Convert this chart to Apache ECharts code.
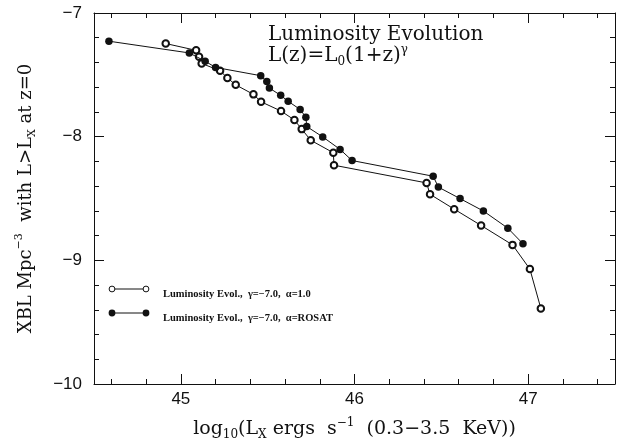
<!DOCTYPE html>
<html><head><meta charset="utf-8">
<script src="https://cdn.jsdelivr.net/npm/echarts@6/dist/echarts.min.js"></script>
<style>html,body{margin:0;padding:0;background:#fff}#c{width:618px;height:446px}</style>
</head><body><div id="c"></div>
<script>
// open circles: alpha = 1.0
const openX = [44.913, 45.088, 45.105, 45.120, 45.226, 45.268, 45.316, 45.418, 45.462, 45.577, 45.654, 45.696, 45.748, 45.878, 45.882, 46.415, 46.435, 46.574, 46.729, 46.910, 47.010, 47.073];
const openY = [-7.247, -7.302, -7.353, -7.408, -7.467, -7.525, -7.581, -7.658, -7.718, -7.793, -7.865, -7.939, -8.029, -8.130, -8.231, -8.374, -8.466, -8.586, -8.718, -8.875, -9.071, -9.389];
// filled circles: alpha = ROSAT
const filledX = [44.586, 45.049, 45.140, 45.200, 45.460, 45.495, 45.510, 45.575, 45.618, 45.687, 45.720, 45.725, 45.817, 45.917, 45.986, 46.453, 46.483, 46.608, 46.742, 46.883, 46.970];
const filledY = [-7.228, -7.323, -7.390, -7.440, -7.507, -7.554, -7.607, -7.666, -7.714, -7.780, -7.843, -7.918, -8.002, -8.103, -8.193, -8.320, -8.408, -8.501, -8.601, -8.740, -8.866];

const xMajorTicks = [45, 46, 47];
const xMinorTicks = [44.6, 44.8, 45.2, 45.4, 45.6, 45.8, 46.2, 46.4, 46.6, 46.8, 47.2, 47.4];
const yTicks = [-10, -9, -8, -7];
const seriesNames = ['Luminosity Evol.,  \u03b3=\u22127.0,  \u03b1=1.0', 'Luminosity Evol.,  \u03b3=\u22127.0,  \u03b1=ROSAT'];

const INK = '#111';
const SERIF = 'DejaVu Serif';
function rich(size) {
  return {
    n: {fontFamily: SERIF, fontSize: size, color: INK, fill: INK, lineHeight: 24},
    sub: {fontFamily: SERIF, fontSize: Math.round(size * 0.62), color: INK, fill: INK, verticalAlign: 'bottom', lineHeight: 18},
    sup: {fontFamily: SERIF, fontSize: Math.round(size * 0.62), color: INK, fill: INK, verticalAlign: 'top', lineHeight: 13}
  };
}

function xAx(pos, major, extra) {
  return Object.assign({
    type: 'value', min: 44.5, max: 47.5, position: pos,
    splitLine: {show: false},
    axisLine: {show: true, onZero: false, lineStyle: {color: INK, width: 1}},
    axisTick: {show: true, inside: true, length: major ? 10 : 5, customValues: major ? xMajorTicks : xMinorTicks, lineStyle: {color: INK, width: 1}},
    axisLabel: {show: false}
  }, extra || {});
}
function yAx(pos, extra) {
  return Object.assign({
    type: 'value', min: yTicks[0], max: yTicks[yTicks.length - 1], interval: 1, position: pos,
    splitLine: {show: false},
    axisLine: {show: true, onZero: false, lineStyle: {color: INK, width: 1}},
    axisTick: {show: true, inside: true, length: 10, lineStyle: {color: INK, width: 1}},
    minorTick: {show: true, splitNumber: 5, length: 5, lineStyle: {color: INK, width: 1}},
    axisLabel: {show: false}
  }, extra || {});
}

const chart = echarts.init(document.getElementById('c'), null, {renderer: 'canvas'});
chart.setOption({
  animation: false,
  backgroundColor: '#fff',
  grid: {left: 94, top: 13, width: 521, height: 376, containLabel: false},
  xAxis: [
    xAx('bottom', true, {
      axisLabel: {show: true, customValues: xMajorTicks, margin: 7, fontSize: 17, color: INK, fontFamily: 'Liberation Sans'},
      name: '{n|log}{sub|10}{n|(L}{sub|X}{n| ergs  s}{sup|\u22121}{n|  (0.3\u22123.5  KeV))}',
      nameLocation: 'middle', nameGap: 33,
      nameTextStyle: {fontFamily: SERIF, fontSize: 19, color: INK, rich: rich(19)}
    }),
    xAx('bottom', false, {axisLine: {show: false}}),
    xAx('top', true),
    xAx('top', false, {axisLine: {show: false}})
  ],
  yAxis: [
    yAx('left', {
      axisLabel: {show: true, margin: 12, fontSize: 17, color: INK, fontFamily: 'Liberation Sans',
        formatter: v => String(v).replace('-', '\u2212')},
      name: '{n|XBL Mpc}{sup|\u22123}{n|  with L>L}{sub|X}{n| at z=0}',
      nameLocation: 'middle', nameGap: 56, nameRotate: 90,
      nameTextStyle: {fontFamily: SERIF, fontSize: 18, color: INK, rich: rich(18)}
    }),
    yAx('right')
  ],
  series: [
    {
      name: seriesNames[0], type: 'line', xAxisIndex: 0, yAxisIndex: 0,
      data: openX.map((x, i) => [x, openY[i]]),
      symbol: 'emptyCircle', symbolSize: 6.5,
      lineStyle: {color: INK, width: 1},
      itemStyle: {color: INK, borderColor: INK, borderWidth: 1},
      emphasis: {disabled: true}, z: 3
    },
    {
      name: seriesNames[1], type: 'line', xAxisIndex: 0, yAxisIndex: 0,
      data: filledX.map((x, i) => [x, filledY[i]]),
      symbol: 'circle', symbolSize: 7.5,
      lineStyle: {color: INK, width: 1},
      itemStyle: {color: INK},
      emphasis: {disabled: true}, z: 4
    }
  ],
  graphic: [
    {type: 'text', left: 268, top: 25, style: {text: 'Luminosity Evolution', fontFamily: SERIF, fontSize: 20, fill: INK}},
    {type: 'text', left: 268, top: 44, style: {
      text: '{n|L(z)=L}{sub|0}{n|(1+z)}{sup|\u03b3}', fontFamily: SERIF, fontSize: 20, fill: INK,
      rich: rich(20)}},
    // legend samples
    {type: 'line', shape: {x1: 112, y1: 289, x2: 146, y2: 289}, style: {stroke: INK, lineWidth: 1}},
    {type: 'circle', shape: {cx: 112, cy: 289, r: 2.9}, style: {fill: '#fff', stroke: INK, lineWidth: 1}},
    {type: 'circle', shape: {cx: 146, cy: 289, r: 2.9}, style: {fill: '#fff', stroke: INK, lineWidth: 1}},
    {type: 'text', left: 163, top: 289, style: {text: seriesNames[0], fontFamily: 'Liberation Serif', fontWeight: 'bold', fontSize: 10.5, fill: INK, verticalAlign: 'middle'}},
    {type: 'line', shape: {x1: 112, y1: 313, x2: 146, y2: 313}, style: {stroke: INK, lineWidth: 1}},
    {type: 'circle', shape: {cx: 112, cy: 313, r: 3.4}, style: {fill: INK}},
    {type: 'circle', shape: {cx: 146, cy: 313, r: 3.4}, style: {fill: INK}},
    {type: 'text', left: 163, top: 313, style: {text: seriesNames[1], fontFamily: 'Liberation Serif', fontWeight: 'bold', fontSize: 10.5, fill: INK, verticalAlign: 'middle'}}
  ]
});
</script></body></html>
